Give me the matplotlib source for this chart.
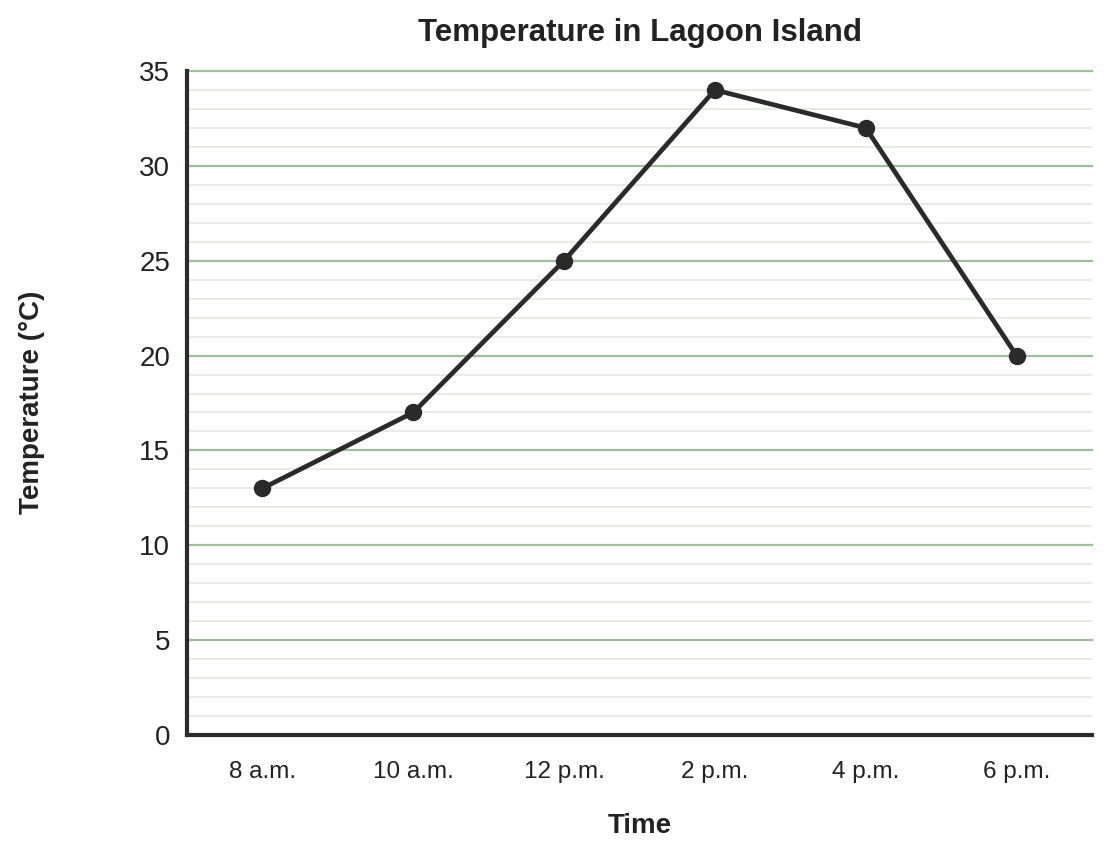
import matplotlib
matplotlib.use("Agg")
import matplotlib.pyplot as plt
import numpy as np

times = ["8 a.m.", "10 a.m.", "12 p.m.", "2 p.m.", "4 p.m.", "6 p.m."]
temps = [13, 17, 25, 34, 32, 20]
y_ticks = [0, 5, 10, 15, 20, 25, 30, 35]

plt.rcParams['font.family'] = ['Liberation Sans', 'DejaVu Sans']

W, H = 1112, 855
fig = plt.figure(figsize=(W / 100, H / 100), dpi=100)
L, R, T, B = 187, 1092, 71, 735
ax = fig.add_axes([L / W, 1 - B / H, (R - L) / W, (B - T) / H])

x = np.arange(len(times))
ax.set_xlim(-0.5, len(times) - 0.5)
ax.set_ylim(0, 35)

for v in range(0, 36):
    if v % 5 == 0:
        if v != 0:
            ax.axhline(v, color='#9dbf9a', lw=1.6, zorder=1, clip_on=False)
    else:
        ax.axhline(v, color='#e7ece6', lw=1.5, zorder=1)

ax.plot(x, temps, color='#2a2a2a', lw=3.4, marker='o', markersize=11.5,
        zorder=3, clip_on=False)

ax.set_xticks(x)
ax.set_xticklabels(times, fontsize=17.5, color='#222222')
ax.set_yticks(y_ticks)
ax.set_yticklabels([str(v) for v in y_ticks], fontsize=20, color='#222222')
ax.tick_params(axis='both', length=0)
ax.tick_params(axis='x', pad=19)
ax.tick_params(axis='y', pad=12)

for s in ['top', 'right']:
    ax.spines[s].set_visible(False)
for s in ['left', 'bottom']:
    ax.spines[s].set_color('#2b2b2b')
    ax.spines[s].set_linewidth(3)
    ax.spines[s].set_zorder(4)

fig.text(640 / W, 1 - 33 / H, "Temperature in Lagoon Island", ha='center', va='center',
         fontsize=22.5, fontweight='bold', color='#222222')
fig.text(640 / W, 1 - 826 / H, "Time", ha='center', va='center',
         fontsize=20, fontweight='bold', color='#222222')
fig.text(32 / W, 1 - 402 / H, "Temperature (°C)", ha='center', va='center',
         rotation=90, fontsize=20, fontweight='bold', color='#222222')

fig.savefig("out.png", dpi=100)
